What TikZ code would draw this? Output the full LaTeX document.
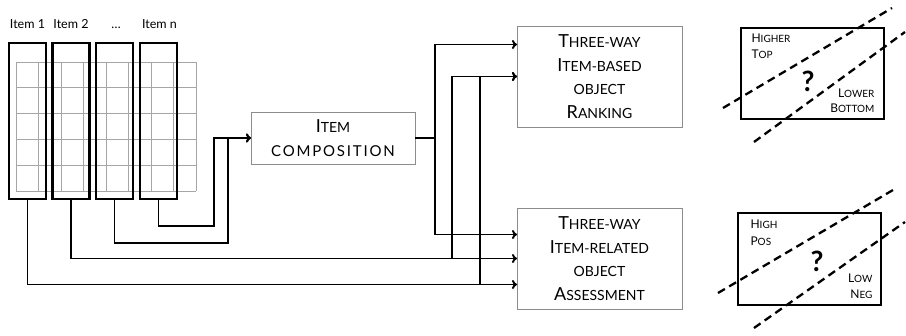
\documentclass[tikz,border=0pt]{standalone}
\usepackage{fontspec}
\setmainfont{Lato}
\usetikzlibrary{arrows.meta}
\newcommand\scA[2]{{\fontsize{18pt}{24pt}\selectfont #1}{\fontsize{14pt}{24pt}\selectfont #2}}
\newcommand\scW[1]{{\fontsize{15pt}{24pt}\selectfont\addfontfeature{LetterSpace=12}#1}}
\newcommand\scB[2]{{\fontsize{12pt}{16pt}\selectfont #1}{\fontsize{10pt}{16pt}\selectfont #2}}
\tikzset{
  gridline/.style={draw=black!35, line width=0.9pt},
  itembox/.style={draw=black, line width=2.6pt, minimum width=37pt, minimum height=156pt, inner sep=0pt, outer sep=0pt},
  itemlabel/.style={font=\fontsize{12.5pt}{15pt}\selectfont, anchor=base},
  procbox/.style={draw=black!45, line width=0.9pt, inner sep=0pt, outer sep=0pt, align=center, font=\fontsize{18pt}{23.5pt}\selectfont},
  conn/.style={draw=black, line width=1.9pt},
  arr/.style={conn, -{To[length=5pt,width=9pt]}},
  qbox/.style={draw=black, line width=2.6pt, minimum width=143pt, minimum height=91pt, inner sep=0pt, outer sep=0pt},
  qdash/.style={draw=black, line width=2.3pt, dash pattern=on 8pt off 5pt},
  qmark/.style={font=\bfseries\fontsize{28pt}{30pt}\selectfont},
}
\begin{document}
\begin{tikzpicture}[x=1pt,y=-1pt]
\useasboundingbox (0,0) rectangle (906,336);
% grid
\foreach \i in {0,...,8} \draw[gridline] (16+22.5*\i,62) -- (16+22.5*\i,191);
\foreach \j in {0,...,5} \draw[gridline] (16,62+25.8*\j) -- (196,62+25.8*\j);
% item boxes
\node[itembox] (i1) at (27.5,121) {};
\node[itembox] (i2) at (71,121) {};
\node[itembox] (i3) at (114.5,121) {};
\node[itembox] (in) at (158.5,121) {};
\node[itemlabel] (l1) at (27.5,29) {Item 1};
\node[itemlabel] (l2) at (71,29) {Item 2};
\node[itemlabel] (l3) at (116,29) {\ldots};
\node[itemlabel] (ln) at (159.5,29) {Item n};
% process boxes
\node[procbox, minimum width=164pt, minimum height=52pt] (comp) at (333,138) {\scA{I}{TEM}\\\scW{COMPOSITION}};
\node[procbox, minimum width=165pt, minimum height=101pt] (rank) at (599.5,76.5) {\scA{T}{HREE-WAY}\\\scA{I}{TEM-BASED}\\\scA{}{OBJECT}\\\scA{R}{ANKING}};
\node[procbox, minimum width=165pt, minimum height=101pt] (assess) at (599.5,258.5) {\scA{T}{HREE-WAY}\\\scA{I}{TEM-RELATED}\\\scA{}{OBJECT}\\\scA{A}{SSESSMENT}};
% connectors into composition
\coordinate (bn) at (214,226);
\coordinate (b3) at (228,243);
\draw[arr] (in.south) |- (bn) |- (comp.west);
\draw[arr] (i3.south) |- (b3) |- (comp.west);
% composition outputs
\draw[conn] (comp.east) -- ++(20,0) coordinate (c1);
\draw[arr] (c1) |- ([yshift=32pt]rank.west);
\draw[arr] (c1) |- ([yshift=24pt]assess.west);
% item 2
\draw[arr] (i2.south) |- (assess.west);
\draw[arr] ([xshift=-65pt]assess.west) |- (rank.west);
% item 1
\draw[arr] (i1.south) |- ([yshift=-26pt]assess.west);
\draw[arr] ([xshift=-37pt,yshift=-26pt]assess.west) |- (rank.west);
% right top diagram
\node[qbox] (q1) at (812.5,73.5) {};
\draw[qdash] (723,108) -- (892,8);
\draw[qdash] (754,142) -- (905,32);
\node[anchor=base west] (h1) at (748,43) {\scB{H}{IGHER}};
\node[anchor=base west] (t1) at (748,59) {\scB{T}{OP}};
\node[anchor=base east] (lo1) at (878,98) {\scB{L}{OWER}};
\node[anchor=base east] (bo1) at (878,113) {\scB{B}{OTTOM}};
\node[qmark] (qm1) at (808,81) {?};
% right bottom diagram
\node[qbox, minimum height=92pt] (q2) at (809.5,259) {};
\draw[qdash] (718,293) -- (893,190);
\draw[qdash] (754,328) -- (905,222);
\node[anchor=base west] (h2) at (747,229) {\scB{H}{IGH}};
\node[anchor=base west] (p2) at (747,246) {\scB{P}{OS}};
\node[anchor=base east] (lo2) at (876,283) {\scB{L}{OW}};
\node[anchor=base east] (ne2) at (876,299) {\scB{N}{EG}};
\node[qmark] (qm2) at (817,261) {?};
\end{tikzpicture}
\end{document}
